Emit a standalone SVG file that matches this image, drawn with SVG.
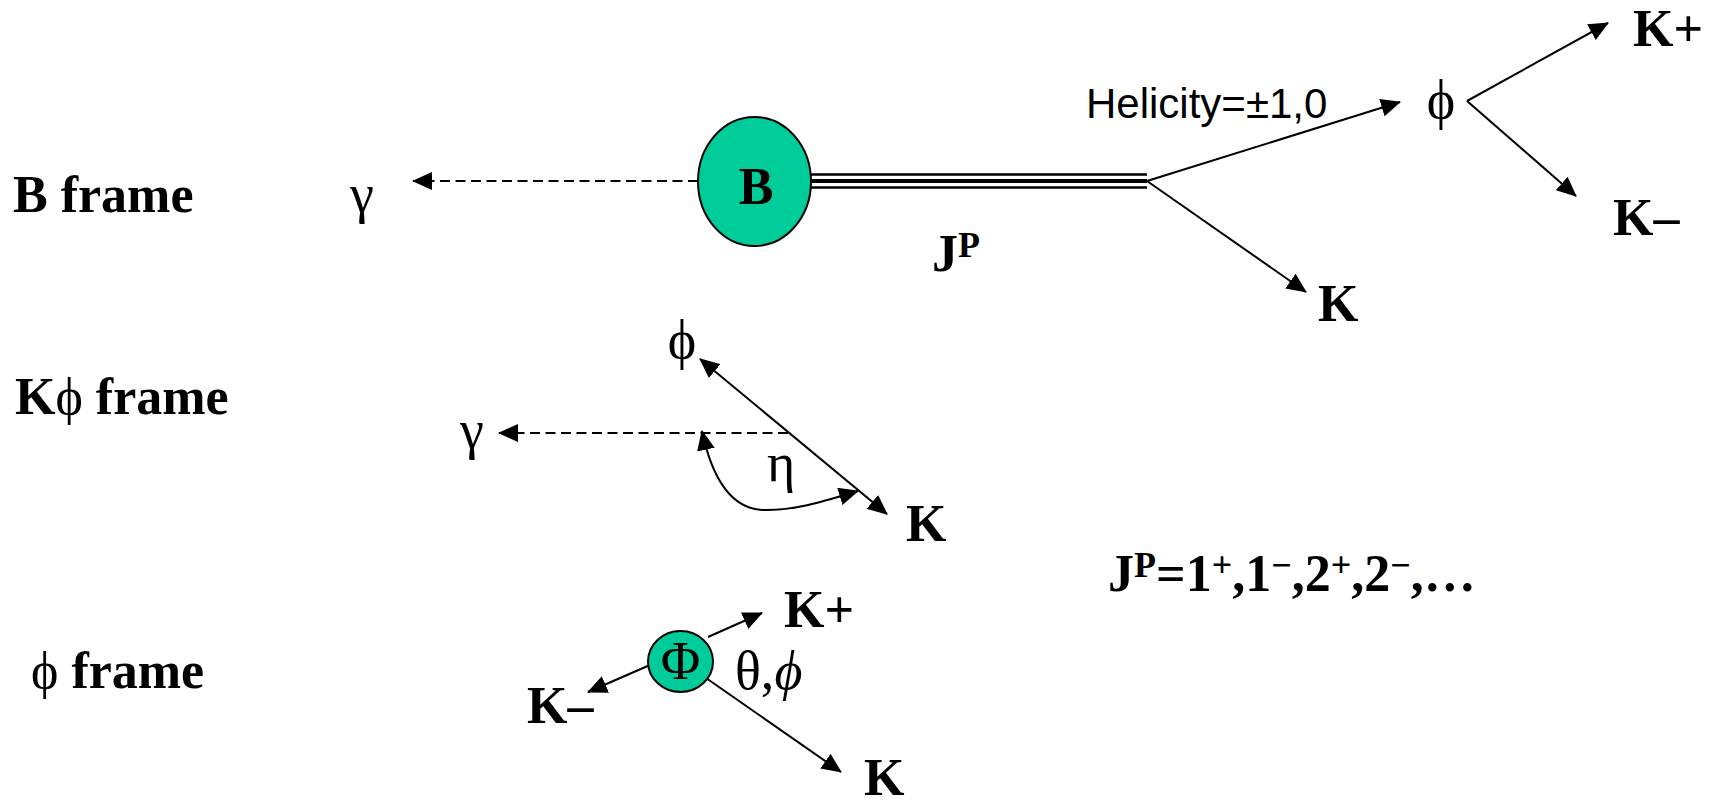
<svg xmlns="http://www.w3.org/2000/svg" width="1715" height="802" viewBox="0 0 1715 802">
<style>
.bold{font-family:"Liberation Serif","Times New Roman",serif;font-weight:bold;font-size:52px;fill:#000}
.greek{font-family:"Liberation Serif","DejaVu Serif",serif;font-weight:normal;font-size:54px;fill:#000}
.sans{font-family:"Liberation Sans",Arial,sans-serif;font-size:42px;fill:#000}
.ln{stroke:#000;stroke-width:2;fill:none}
.dash{stroke:#000;stroke-width:2;fill:none;stroke-dasharray:10 5.5}
.node{fill:#00CC99;stroke:#000;stroke-width:2}
</style>
<defs>
<marker id="ah" viewBox="0 0 20 18" refX="19" refY="9" markerWidth="20" markerHeight="18" markerUnits="userSpaceOnUse" orient="auto-start-reverse">
<path d="M0,0 L20,9 L0,18 z" fill="#000"/>
</marker>
</defs>
<rect width="1715" height="802" fill="#fff"/>

<g id="connectors">
<line class="dash" x1="698" y1="181" x2="413" y2="181" marker-end="url(#ah)"/>
<line x1="811" y1="174.5" x2="1147" y2="174.5" stroke="#000" stroke-width="2.5"/>
<line x1="811" y1="181" x2="1147" y2="181" stroke="#000" stroke-width="4"/>
<line x1="811" y1="187.5" x2="1147" y2="187.5" stroke="#000" stroke-width="2.5"/>
<line class="ln" x1="1147" y1="181" x2="1400" y2="102" marker-end="url(#ah)"/>
<line class="ln" x1="1147" y1="181" x2="1306" y2="292" marker-end="url(#ah)"/>
<line class="ln" x1="1467" y1="101" x2="1608" y2="23" marker-end="url(#ah)"/>
<line class="ln" x1="1467" y1="101" x2="1576" y2="196" marker-end="url(#ah)"/>
<line class="ln" x1="700" y1="359" x2="887" y2="514" marker-start="url(#ah)" marker-end="url(#ah)"/>
<line class="dash" x1="788" y1="433" x2="499" y2="433" marker-end="url(#ah)"/>
<path class="ln" d="M702,431 C712,478 730,508 762,510 C795,511 828,500 858,491" marker-start="url(#ah)" marker-end="url(#ah)"/>
<line class="ln" x1="708" y1="637" x2="762" y2="613" marker-end="url(#ah)"/>
<line class="ln" x1="650" y1="665" x2="588" y2="692" marker-end="url(#ah)"/>
<line class="ln" x1="706" y1="678" x2="841" y2="772" marker-end="url(#ah)"/>
</g>

<g id="label-b-frame"><text class="bold" x="13" y="212">B frame</text></g>
<g id="gamma-b"><text class="greek" x="350" y="212">γ</text></g>
<g id="node-B">
<ellipse class="node" cx="754.5" cy="181.5" rx="56.5" ry="64.5"/>
<text class="bold" x="756" y="204" text-anchor="middle">B</text>
</g>
<g id="label-jp"><text class="bold" x="932" y="271">J<tspan font-size="36" dy="-14">P</tspan></text></g>
<g id="label-helicity"><text class="sans" x="1086" y="118">Helicity=±1,0</text></g>
<g id="phi-top"><text class="greek" x="1441" y="118" text-anchor="middle" font-size="58">ϕ</text></g>
<g id="kplus-top"><text class="bold" x="1633" y="46">K+</text></g>
<g id="kminus-top"><text class="bold" x="1613" y="235">K–</text></g>
<g id="k-top"><text class="bold" x="1318" y="321">K</text></g>

<g id="label-kphi-frame"><text class="bold" x="15" y="414">K<tspan font-weight="normal">ϕ</tspan> frame</text></g>
<g id="phi-kphi"><text class="greek" x="682" y="358" text-anchor="middle" font-size="58">ϕ</text></g>
<g id="gamma-kphi"><text class="greek" x="460" y="448">γ</text></g>
<g id="eta"><text class="greek" x="767" y="481">η</text></g>
<g id="k-kphi"><text class="bold" x="906" y="541">K</text></g>

<g id="label-jp-values"><text class="bold" x="1108" y="591">J<tspan font-size="36" dy="-14">P</tspan><tspan dy="14">=1</tspan><tspan font-size="36" dy="-14">+</tspan><tspan dy="14">,1</tspan><tspan font-size="36" dy="-14">−</tspan><tspan dy="14">,2</tspan><tspan font-size="36" dy="-14">+</tspan><tspan dy="14">,2</tspan><tspan font-size="36" dy="-14">−</tspan><tspan dy="14">,…</tspan></text></g>

<g id="label-phi-frame"><text class="bold" x="31" y="688"><tspan font-weight="normal">ϕ</tspan> frame</text></g>
<g id="node-Phi">
<ellipse class="node" cx="680.5" cy="661.5" rx="32.5" ry="30.5"/>
<text class="greek" x="680.5" y="679" text-anchor="middle" font-size="44">Φ</text>
</g>
<g id="theta-phi"><text class="greek" x="735" y="689" font-size="50">θ,<tspan font-style="italic">ϕ</tspan></text></g>
<g id="kplus-phi"><text class="bold" x="784" y="627">K+</text></g>
<g id="kminus-phi"><text class="bold" x="527" y="723">K–</text></g>
<g id="k-phi"><text class="bold" x="864" y="795">K</text></g>
</svg>
